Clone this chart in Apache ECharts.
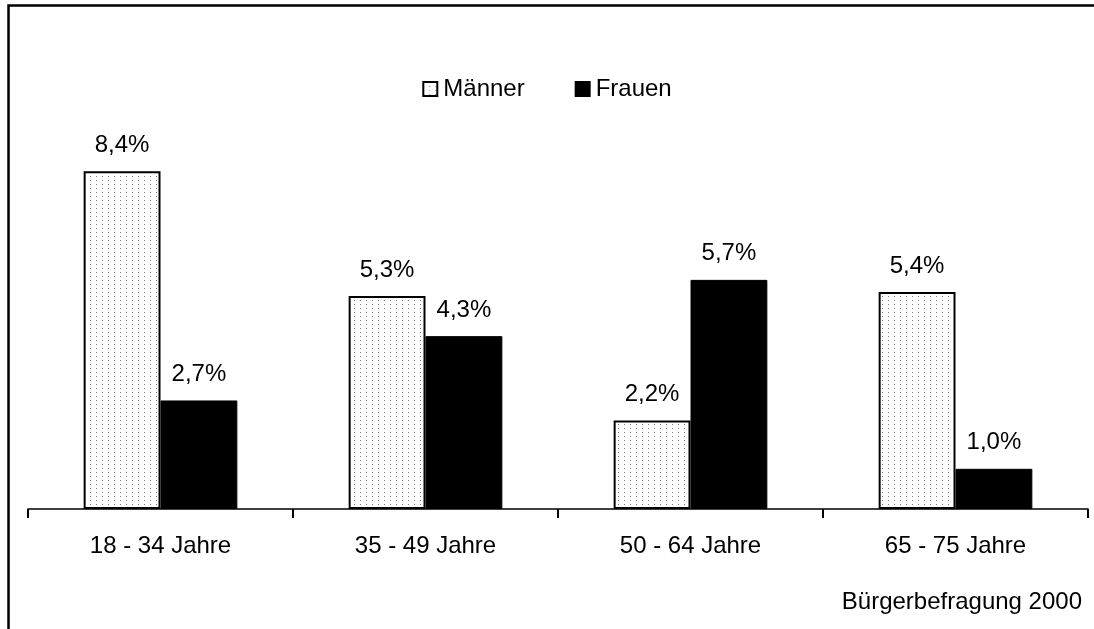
<!DOCTYPE html>
<html>
<head>
<meta charset="utf-8">
<script src="https://cdn.jsdelivr.net/npm/echarts@6/dist/echarts.min.js"></script>
<style>
  html, body { margin: 0; padding: 0; background: #fff; }
  #chart { width: 1094px; height: 629px; }
</style>
</head>
<body>
<div id="chart"></div>
<script>
// Altersgruppen und Anteile je Geschlecht (in Prozent)
const categories = ['18 - 34 Jahre', '35 - 49 Jahre', '50 - 64 Jahre', '65 - 75 Jahre'];
const maenner = [8.4, 5.3, 2.2, 5.4];
const frauen = [2.7, 4.3, 5.7, 1.0];
const seriesNames = ['Männer', 'Frauen'];
const sourceNote = 'Bürgerbefragung 2000';

// fein gepunktetes Füllmuster für die Männer-Balken
function dotPattern() {
  const c = document.createElement('canvas');
  c.width = 6; c.height = 4;
  const ctx = c.getContext('2d');
  ctx.fillStyle = '#ffffff';
  ctx.fillRect(0, 0, 6, 4);
  ctx.fillStyle = '#7a7a7a';
  ctx.fillRect(0, 0, 1, 1);
  return c;
}

const font = "'Liberation Sans', Arial, sans-serif";
const fmt = p => p.value.toFixed(1).replace('.', ',') + '%';

const chart = echarts.init(document.getElementById('chart'), null, { renderer: 'canvas' });
chart.setOption({
  animation: false,
  backgroundColor: '#fff',
  textStyle: { fontFamily: font, color: '#000' },
  grid: { left: 28, right: 6, top: 107, bottom: 120 },
  legend: {
    top: 72,
    left: 'center',
    itemWidth: 14,
    itemHeight: 14,
    itemGap: 50,
    icon: 'rect',
    textStyle: { fontFamily: font, fontSize: 24, color: '#000', padding: [0, 0, 0, 1] },
    data: seriesNames
  },
  title: {
    text: sourceNote,
    right: 7,
    top: 585,
    textStyle: { fontFamily: font, fontSize: 24, fontWeight: 'normal', color: '#000' }
  },
  xAxis: {
    type: 'category',
    data: categories,
    axisLine: { lineStyle: { color: '#000', width: 1.5 } },
    axisTick: { show: true, length: 9, lineStyle: { color: '#000', width: 2 } },
    axisLabel: { fontFamily: font, fontSize: 24, color: '#000', margin: 25 }
  },
  yAxis: {
    type: 'value',
    min: 0,
    max: 10,
    show: false,
    splitLine: { show: false }
  },
  series: [
    {
      name: seriesNames[0],
      type: 'bar',
      data: maenner,
      barGap: '0%',
      barCategoryGap: '42%',
      itemStyle: {
        color: { image: dotPattern(), repeat: 'repeat' },
        borderColor: '#000',
        borderWidth: 2
      },
      label: {
        show: true,
        position: 'top',
        distance: 14,
        formatter: fmt,
        fontFamily: font,
        fontSize: 24,
        color: '#000'
      }
    },
    {
      name: seriesNames[1],
      type: 'bar',
      data: frauen,
      barGap: '0%',
      barCategoryGap: '42%',
      itemStyle: { color: '#000', borderColor: '#000', borderWidth: 1 },
      label: {
        show: true,
        position: 'top',
        distance: 14,
        formatter: fmt,
        fontFamily: font,
        fontSize: 24,
        color: '#000'
      }
    }
  ],
  graphic: [
    {
      type: 'rect',
      silent: true,
      shape: { x: 8.5, y: 5.5, width: 2000, height: 2000 },
      style: { fill: 'none', stroke: '#000', lineWidth: 2.5 }
    }
  ]
});
</script>
</body>
</html>
